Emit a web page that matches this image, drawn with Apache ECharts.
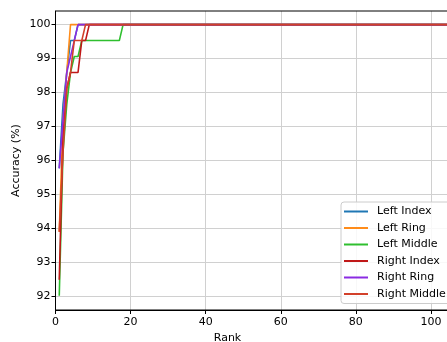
<!DOCTYPE html>
<html>
<head>
<meta charset="utf-8">
<script src="https://cdn.jsdelivr.net/npm/echarts@6/dist/echarts.min.js"></script>
<style>html,body{margin:0;padding:0;background:#fff}#c{width:447px;height:342px}</style>
</head>
<body>
<div id="c"></div>
<script>
// Data
var ranks       = [1, 2, 3, 4, 5, 6, 7, 8, 9, 10, 11, 12, 13, 14, 15, 16, 17, 18, 110];
var leftIndex   = [95.77, 97.65, 98.59, 99.53, 99.53, 100, 100, 100, 100, 100, 100, 100, 100, 100, 100, 100, 100, 100, 100];
var leftRing    = [93.90, 97.18, 98.59, 100, 100, 100, 100, 100, 100, 100, 100, 100, 100, 100, 100, 100, 100, 100, 100];
var leftMiddle  = [92.02, 96.24, 97.65, 98.59, 99.06, 99.06, 99.53, 99.53, 99.53, 99.53, 99.53, 99.53, 99.53, 99.53, 99.53, 99.53, 99.53, 100, 100];
var rightIndex  = [92.49, 96.71, 98.12, 98.59, 98.59, 98.59, 99.53, 99.53, 100, 100, 100, 100, 100, 100, 100, 100, 100, 100, 100];
var rightRing   = [95.77, 97.18, 98.59, 99.06, 99.53, 100, 100, 100, 100, 100, 100, 100, 100, 100, 100, 100, 100, 100, 100];
var rightMiddle = [93.90, 96.24, 98.12, 98.59, 99.53, 99.53, 99.53, 100, 100, 100, 100, 100, 100, 100, 100, 100, 100, 100, 100];
var seriesNames = ['Left Index', 'Left Ring', 'Left Middle', 'Right Index', 'Right Ring', 'Right Middle'];
var seriesValues = [leftIndex, leftRing, leftMiddle, rightIndex, rightRing, rightMiddle];
var colors = ['#1f77b4', '#ff8c1a', '#2fbf2f', '#c01818', '#8a2be2', '#d2402a'];
var xTicks = [0, 20, 40, 60, 80, 100];
var yTicks = [92, 93, 94, 95, 96, 97, 98, 99, 100];

var FONT = 'DejaVu Sans';
var L = 55.5, T = 11, H = 299, W = 413;
var yMin = 91.6, yMax = 100.4;
var pxPerY = H / (yMax - yMin);

var chart = echarts.init(document.getElementById('c'), null, {renderer: 'canvas'});
var series = seriesNames.map(function (n, i) {
  return {
    name: n, type: 'line', xAxisIndex: 0, yAxisIndex: 0,
    data: ranks.map(function (r, k) { return [r, seriesValues[i][k]]; }),
    symbol: 'none', lineStyle: {width: 1.6, color: colors[i]}, itemStyle: {color: colors[i]},
    animation: false
  };
});

chart.setOption({
  animation: false,
  color: colors,
  grid: [
    {left: L, top: T, width: W, height: H, show: true, borderColor: '#000', borderWidth: 1,
     backgroundColor: 'transparent', z: 3, outerBoundsMode: 'none', containLabel: false},
    {left: L, top: T + (yMax - yTicks[yTicks.length - 1]) * pxPerY, width: W,
     height: (yTicks[yTicks.length - 1] - yTicks[0]) * pxPerY, show: false, outerBoundsMode: 'none', containLabel: false}
  ],
  xAxis: [
    {gridIndex: 0, type: 'value', min: 0, max: 110, interval: 20,
     name: 'Rank', nameLocation: 'middle', nameGap: 17.5,
     nameTextStyle: {fontFamily: FONT, fontSize: 11, color: '#000', padding: [0, 69, 0, 0], verticalAlign: 'top'},
     axisLine: {show: true, lineStyle: {color: '#000', width: 1}},
     axisTick: {show: true, length: 4, lineStyle: {color: '#000'}},
     axisLabel: {fontFamily: FONT, fontSize: 11, color: '#000', margin: 7,
       formatter: function (v) { return xTicks.indexOf(v) >= 0 ? String(v) : ''; }},
     splitLine: {show: true, lineStyle: {color: '#d0d0d0', width: 1}}},
    {gridIndex: 1, type: 'value', min: 0, max: 110, show: false}
  ],
  yAxis: [
    {gridIndex: 0, type: 'value', min: yMin, max: yMax,
     name: 'Accuracy (%)', nameLocation: 'middle', nameGap: 34, nameRotate: 90,
     nameTextStyle: {fontFamily: FONT, fontSize: 11, color: '#000'},
     axisLine: {show: true, lineStyle: {color: '#000', width: 1}},
     axisTick: {show: false}, axisLabel: {show: false}, splitLine: {show: false}},
    {gridIndex: 1, type: 'value', min: yTicks[0], max: yTicks[yTicks.length - 1], interval: 1,
     axisLine: {show: false},
     axisTick: {show: true, length: 4, lineStyle: {color: '#000'}},
     axisLabel: {fontFamily: FONT, fontSize: 11, color: '#000', margin: 5},
     splitLine: {show: true, lineStyle: {color: '#d0d0d0', width: 1}}}
  ],
  legend: {
    orient: 'vertical', left: 341, top: 202,
    data: seriesNames, icon: 'rect', itemWidth: 24, itemHeight: 2, itemGap: 4.5,
    padding: [3.5, 16, 3.5, 3],
    backgroundColor: 'rgba(255,255,255,0.85)', borderColor: '#cccccc', borderWidth: 1, borderRadius: 3,
    textStyle: {fontFamily: FONT, fontSize: 11, color: '#000', lineHeight: 12, padding: [0, 0, 0, 4]},
    z: 10
  },
  series: series
});
</script>
</body>
</html>
